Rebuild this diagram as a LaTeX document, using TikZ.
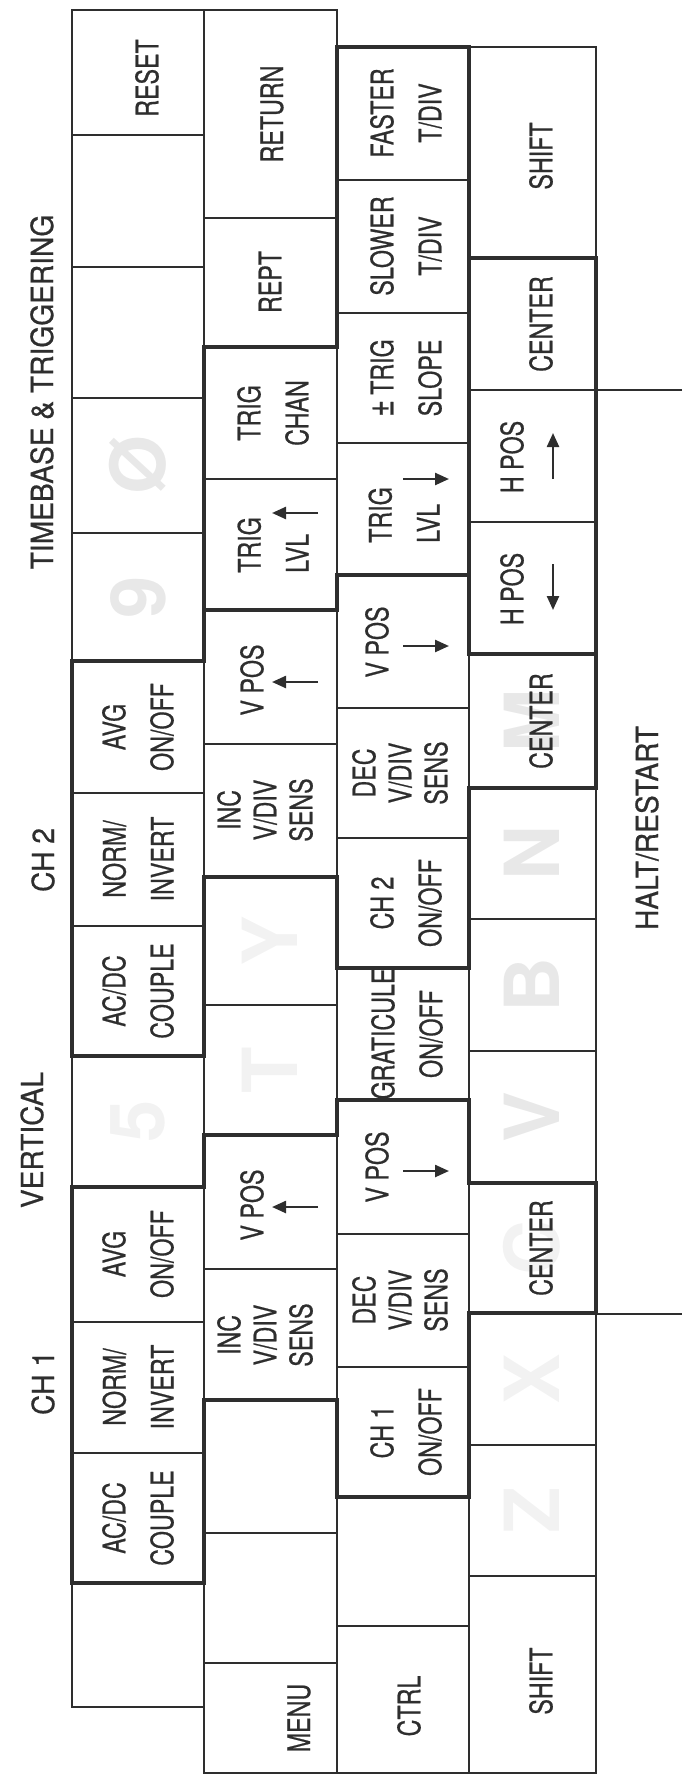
\documentclass[tikz,border=0pt]{standalone}
\usepackage{fontspec}
\usepackage{tikz}
\usetikzlibrary{arrows.meta}
\newfontfamily\keyfont[FakeStretch=0.75,FakeBold=0.6]{TeX Gyre Heros}
\newfontfamily\grpfont[FakeStretch=0.92,FakeBold=0.6]{TeX Gyre Heros}
\newfontfamily\ghostfont{TeX Gyre Heros}
\definecolor{ink}{gray}{0.18}

\begin{document}
\begin{tikzpicture}[x=0.5pt,y=-0.5pt,line cap=butt,
    keyline/.style={draw=ink,line width=0.7pt},
    grpline/.style={draw=ink,line width=2.2pt},
    lab/.style={rotate=90,text=ink,align=center,inner sep=0pt,font=\keyfont\fontsize{15.5}{24}\selectfont},
    lab3/.style={lab,font=\keyfont\fontsize{15.5}{18}\selectfont},
    grp/.style={rotate=90,text=ink,inner sep=0pt,font=\grpfont\fontsize{15.3}{24}\selectfont},
    ghost/.style={rotate=90,text=black!9,inner sep=0pt,font=\ghostfont\bfseries\fontsize{38}{40}\selectfont},
    ghostf/.style={ghost,text=black!5},
    arr/.style={draw=ink,line width=1.2pt,-{Triangle[length=7pt,width=6pt]}}]
  \useasboundingbox (0,0) rectangle (682,1776);

  % keycaps showing through the overlay
  \node[ghost] (k0) at (138,465) {Ø};
  \node[ghost] (k9) at (138,597) {9};
  \node[ghostf] (k5) at (138,1121) {5};
  \node[ghostf] (ky) at (270,941) {Y};
  \node[ghostf] (kt) at (270,1070) {T};
  \node[ghost] (km) at (532,721) {M};
  \node[ghost] (kn) at (532,853) {N};
  \node[ghost] (kb) at (532,985) {B};
  \node[ghost] (kv) at (532,1117) {V};
  \node[ghostf] (kc) at (532,1248) {C};
  \node[ghostf] (kx) at (532,1379) {X};
  \node[ghostf] (kz) at (532,1510) {Z};

  % key grid, one column per keyboard row
  \foreach \ya/\yb in {10/135,135/267,267/398,398/533,533/661,661/793,793/926,926/1056,1056/1187,1187/1322,1322/1453,1453/1583,1583/1707}
    \draw[keyline] (72,\ya) rectangle (204,\yb);
  \foreach \ya/\yb in {10/218,218/347,347/479,479/610,610/744,744/877,877/1005,1005/1135,1135/1269,1269/1400,1400/1533,1533/1663,1663/1773}
    \draw[keyline] (204,\ya) rectangle (337,\yb);
  \foreach \ya/\yb in {47/180,180/313,313/443,443/575,575/708,708/838,838/968,968/1100,1100/1234,1234/1367,1367/1497,1497/1626,1626/1773}
    \draw[keyline] (337,\ya) rectangle (469,\yb);
  \foreach \ya/\yb in {47/258,258/390,390/522,522/654,654/788,788/919,919/1051,1051/1183,1183/1313,1313/1445,1445/1576,1576/1773}
    \draw[keyline] (469,\ya) rectangle (596,\yb);
  \draw[keyline] (682,390) -- (596,390) (596,1314) -- (682,1314);

  % group outlines
  \draw[grpline] (337,47) -- (469,47) -- (469,575) -- (337,575) -- (337,610) -- (204,610) -- (204,347) -- (337,347) -- cycle;
  \draw[grpline] (469,258) rectangle (596,654);
  \draw[grpline] (72,661) -- (204,661) -- (204,610) -- (337,610) -- (337,575) -- (469,575) -- (469,654) -- (596,654)
    -- (596,788) -- (469,788) -- (469,968) -- (337,968) -- (337,877) -- (204,877) -- (204,1056) -- (72,1056) -- cycle;
  \draw[grpline] (72,1187) -- (204,1187) -- (204,1135) -- (337,1135) -- (337,1100) -- (469,1100) -- (469,1183) -- (596,1183)
    -- (596,1313) -- (469,1313) -- (469,1497) -- (337,1497) -- (337,1400) -- (204,1400) -- (204,1583) -- (72,1583) -- cycle;

  % captions
  \node[grp] (tbcap) at (42,392) {TIMEBASE \& TRIGGERING};
  \node[grp] (ch2cap) at (43,860) {CH 2};
  \node[grp] (vcap) at (32,1140) {VERTICAL};
  \node[grp] (ch1cap) at (43,1383) {CH 1};
  \node[grp] (halt) at (647,828) {HALT/RESTART};

  % top row
  \node[lab] (reset) at (147,78) {RESET};
  \node[lab] (avg2) at (138,727) {AVG\\ON/OFF};
  \node[lab] (norm2) at (138,859) {NORM/\\INVERT};
  \node[lab] (acdc2) at (138,991) {AC/DC\\COUPLE};
  \node[lab] (avg1) at (138,1254) {AVG\\ON/OFF};
  \node[lab] (norm1) at (138,1387) {NORM/\\INVERT};
  \node[lab] (acdc1) at (138,1518) {AC/DC\\COUPLE};

  % second row
  \node[lab] (ret) at (272,114) {RETURN};
  \node[lab] (rept) at (270,282) {REPT};
  \node[lab] (tchan) at (273,413) {TRIG\\CHAN};
  \node[lab,align=left] (tlvlup) at (273,545) {TRIG\\LVL};
  \draw[arr] (318,513) -- (272,513);
  \node[lab] (vpos2) at (252,680) {V POS};
  \draw[arr] (318,682) -- (272,682);
  \node[lab3] (inc2) at (265,810) {INC\\V/DIV\\SENS};
  \node[lab] (vpos1) at (252,1205) {V POS};
  \draw[arr] (318,1207) -- (272,1207);
  \node[lab3] (inc1) at (265,1335) {INC\\V/DIV\\SENS};
  \node[lab] (menu) at (299,1718) {MENU};

  % third row
  \node[lab] (faster) at (406,113) {FASTER\\T/DIV};
  \node[lab] (slower) at (406,246) {SLOWER\\T/DIV};
  \node[lab] (slope) at (406,378) {{\fontsize{19}{24}\selectfont ±}\,TRIG\\SLOPE};
  \node[lab,align=left] (tlvldn) at (404,515) {TRIG\\LVL};
  \draw[arr] (403,479) -- (449,479);
  \node[lab] (vposd2) at (377,642) {V POS};
  \draw[arr] (403,646) -- (449,646);
  \node[lab3] (dec2) at (400,773) {DEC\\V/DIV\\SENS};
  \node[lab] (ch2) at (406,903) {CH 2\\ON/OFF};
  \node[lab] (grat) at (407,1034) {GRATICULE\\ON/OFF};
  \node[lab] (vposd1) at (377,1167) {V POS};
  \draw[arr] (403,1171) -- (449,1171);
  \node[lab3] (dec1) at (400,1300) {DEC\\V/DIV\\SENS};
  \node[lab] (ch1) at (406,1432) {CH 1\\ON/OFF};
  \node[lab] (ctrl) at (409,1706) {CTRL};

  % bottom row
  \node[lab] (shiftr) at (541,156) {SHIFT};
  \node[lab] (cent3) at (541,324) {CENTER};
  \node[lab] (hposr) at (512,457) {H POS};
  \draw[arr] (553,479) -- (553,433);
  \node[lab] (hposl) at (512,589) {H POS};
  \draw[arr] (553,564) -- (553,610);
  \node[lab] (cent2) at (541,721) {CENTER};
  \node[lab] (cent1) at (541,1248) {CENTER};
  \node[lab] (shiftl) at (541,1681) {SHIFT};
\end{tikzpicture}
\end{document}
